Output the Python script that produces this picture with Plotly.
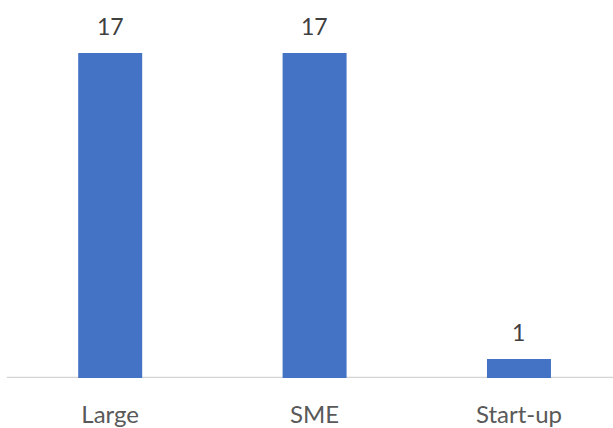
import plotly.graph_objects as go

categories = ["Large", "SME", "Start-up"]
counts = [17, 17, 1]

bar_color = "#4472C4"
font_family = "Lato, 'Open Sans', sans-serif"

fig = go.Figure(
    go.Bar(
        x=categories,
        y=counts,
        width=0.313,
        marker=dict(color=bar_color, line=dict(width=0)),
        hoverinfo="x+y",
    )
)

# value labels above each bar
for cat, val in zip(categories, counts):
    fig.add_annotation(
        x=cat, y=val, text=str(val), showarrow=False,
        yanchor="middle", yshift=27,
        font=dict(family=font_family, size=23, color="#404040"),
    )

fig.update_layout(
    width=613, height=428,
    margin=dict(l=8, r=0, t=24, b=50),
    paper_bgcolor="white", plot_bgcolor="white",
    showlegend=False,
    xaxis=dict(
        type="category", range=[-0.5, 2.46],
        showgrid=False, zeroline=False,
        showline=False, ticks="",
        ticklabelstandoff=20,
        tickfont=dict(family=font_family, size=24, color="#595959"),
    ),
    yaxis=dict(
        range=[0, 18.51], visible=False,
        showgrid=False, zeroline=False,
    ),
)

# baseline spanning the full plot width
fig.add_shape(
    type="line", xref="paper", yref="y", x0=-0.002, x1=1, y0=0, y1=0,
    line=dict(color="#d4d4d4", width=2.5), layer="below",
)

fig.write_html("out.html")
